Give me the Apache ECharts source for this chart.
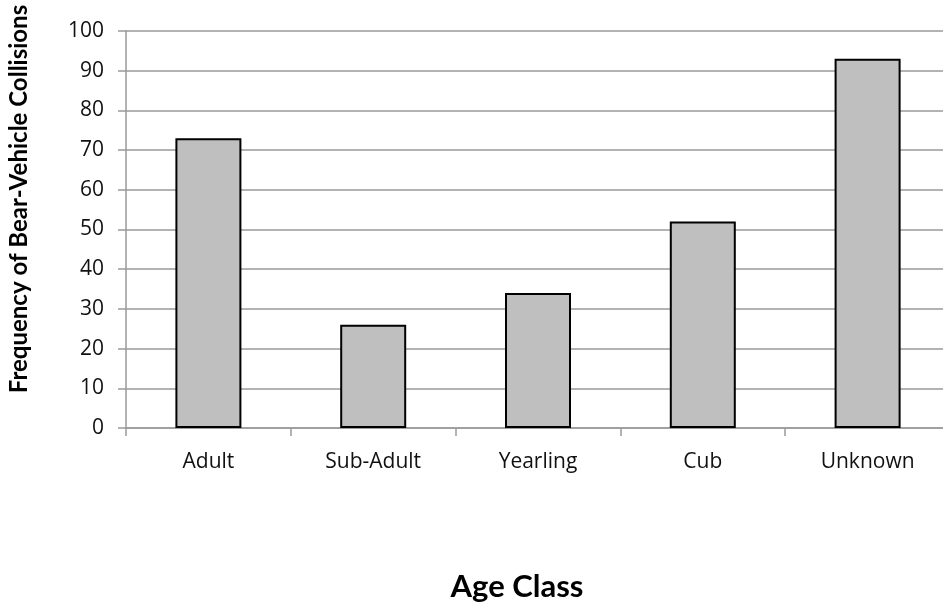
<!DOCTYPE html>
<html>
<head>
<meta charset="utf-8">
<script src="https://cdn.jsdelivr.net/npm/echarts@6/dist/echarts.min.js"></script>
<style>
  html, body { margin: 0; padding: 0; background: #fff; overflow: hidden; }
  /* canvas is slightly wider than the window so the plot runs off the right edge */
  #chart { width: 950px; height: 607px; }
</style>
</head>
<body>
<div id="chart"></div>
<script>
// Age classes and collision counts
const categories = ['Adult', 'Sub-Adult', 'Yearling', 'Cub', 'Unknown'];
const collisions = [73, 26, 34, 52, 93];
const yTicks = { min: 0, max: 100, interval: 10 };
const yTitle = 'Frequency of Bear-Vehicle Collisions';
const xTitle = 'Age Class';

const chart = echarts.init(document.getElementById('chart'), null, { renderer: 'canvas' });
const axisGray = '#9a9a9a';

chart.setOption({
  animation: false,
  backgroundColor: '#ffffff',
  grid: { left: 126, top: 31, right: 0, bottom: 179, containLabel: false },
  xAxis: {
    type: 'category',
    data: categories,
    axisLine: { lineStyle: { color: axisGray, width: 1.5 } },
    axisTick: { show: true, length: 8, lineStyle: { color: axisGray, width: 1.5 } },
    axisLabel: { color: '#111', fontFamily: 'Open Sans', fontSize: 21, margin: 24 },
    splitLine: { show: false }
  },
  yAxis: {
    type: 'value',
    min: yTicks.min,
    max: yTicks.max,
    interval: yTicks.interval,
    axisLine: { show: true, lineStyle: { color: axisGray, width: 1.5 } },
    axisTick: { show: true, length: 8, lineStyle: { color: axisGray, width: 1.5 } },
    axisLabel: { color: '#111', fontFamily: 'Open Sans', fontSize: 21, margin: 22 },
    splitLine: { show: true, lineStyle: { color: axisGray, width: 1.5 } }
  },
  series: [{
    type: 'bar',
    data: collisions,
    barWidth: 66,
    itemStyle: { color: '#bfbfbf', borderColor: '#000', borderWidth: 2 }
  }],
  graphic: [
    {
      type: 'text',
      x: 19, y: 199,
      rotation: Math.PI / 2,
      style: {
        text: yTitle,
        fontFamily: 'Lato', fontWeight: 'bold', fontSize: 24,
        fill: '#000', textAlign: 'center', textVerticalAlign: 'middle'
      }
    },
    {
      type: 'text',
      x: 517, y: 587,
      style: {
        text: xTitle,
        fontFamily: 'Lato', fontWeight: 'bold', fontSize: 31,
        fill: '#000', textAlign: 'center', textVerticalAlign: 'middle'
      }
    }
  ]
});
</script>
</body>
</html>
